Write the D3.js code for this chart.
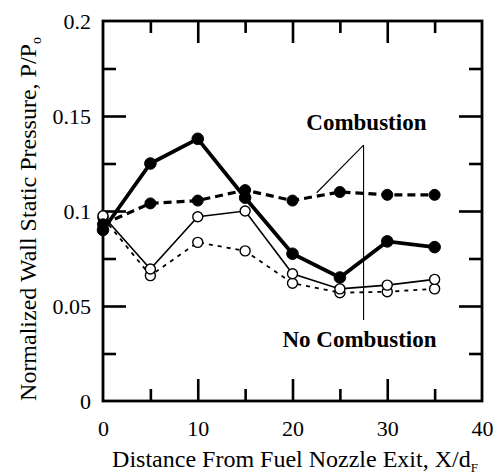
<!DOCTYPE html>
<html>
<head>
<meta charset="utf-8">
<script src="https://cdn.jsdelivr.net/npm/d3@7"></script>
<style>
  html, body { margin: 0; padding: 0; background: #fff; }
  svg { display: block; }
  svg text { font-family: "Liberation Serif", "Times New Roman", Times, "DejaVu Serif", serif !important; fill: #000; }
</style>
</head>
<body>
<script>
// ---- data ----
const xValues = [0, 5, 10, 15, 20, 25, 30, 35];
const combustionSolid  = [0.090, 0.125, 0.138, 0.107, 0.0775, 0.065, 0.084, 0.081];
const combustionDashed = [0.093, 0.104, 0.1055, 0.111, 0.1055, 0.110, 0.1085, 0.1085];
const noCombSolid      = [0.0975, 0.0695, 0.097, 0.100, 0.067, 0.059, 0.061, 0.064];
const noCombDashed     = [0.0965, 0.066, 0.0835, 0.079, 0.062, 0.057, 0.0575, 0.059];

const xTickLabels = [0, 10, 20, 30, 40];
const yTickLabels = [0, 0.05, 0.1, 0.15, 0.2];
const xMajorTicks = [10, 20, 30];
const xMinorTicks = [5, 15, 25, 35];
const yMajorTicks = [0.05, 0.1, 0.15];
const yMinorTicks = [0.025, 0.075, 0.125, 0.175];

const xLabel = "Distance From Fuel Nozzle Exit, X/d";
const xLabelSub = "F";
const yLabel = "Normalized Wall Static Pressure, P/P";
const yLabelSub = "o";
const annCombustion = { text: "Combustion", x: 27.8, y: 0.1426 };
const annNoCombustion = { text: "No Combustion", x: 27.07, y: 0.0284 };
const leaderApex = { x: 27.5, y: 0.1347 };
const leaderDiagEnd = { x: 22.55, y: 0.1096 };
const leaderVertEnd = { x: 27.5, y: 0.0426 };

// ---- layout ----
const W = 495, H = 475;
const pLeft = 103, pRight = 482, pTop = 21, pBottom = 401;
const FONT = '"Liberation Serif", "Times New Roman", Times, "DejaVu Serif", serif';

const svg = d3.select("body").append("svg").attr("width", W).attr("height", H)
  .attr("font-family", FONT);

const x = d3.scaleLinear().domain([0, 40]).range([pLeft, pRight]);
const y = d3.scaleLinear().domain([0, 0.2]).range([pBottom, pTop]);

function tickAxis(axisFn, scale, values, size, transform) {
  const g = svg.append("g").attr("transform", transform)
    .call(axisFn(scale).tickValues(values).tickSize(size).tickFormat(""));
  g.select(".domain").remove();
  g.selectAll(".tick line").attr("stroke", "#000").attr("stroke-width", 2.6);
  return g;
}
// inward ticks on all four sides
tickAxis(d3.axisBottom, x, xMajorTicks, -22, `translate(0,${pBottom})`);
tickAxis(d3.axisBottom, x, xMinorTicks, -12, `translate(0,${pBottom})`);
tickAxis(d3.axisTop, x, xMajorTicks, -22, `translate(0,${pTop})`);
tickAxis(d3.axisTop, x, xMinorTicks, -12, `translate(0,${pTop})`);
tickAxis(d3.axisLeft, y, yMajorTicks, -23, `translate(${pLeft},0)`);
tickAxis(d3.axisLeft, y, yMinorTicks, -13, `translate(${pLeft},0)`);
tickAxis(d3.axisRight, y, yMajorTicks, -23, `translate(${pRight},0)`);
tickAxis(d3.axisRight, y, yMinorTicks, -13, `translate(${pRight},0)`);

// frame
svg.append("rect").attr("x", pLeft).attr("y", pTop)
  .attr("width", pRight - pLeft).attr("height", pBottom - pTop)
  .attr("fill", "none").attr("stroke", "#000").attr("stroke-width", 2.8);

// tick labels
const gx = svg.append("g").attr("transform", `translate(0,${pBottom})`)
  .call(d3.axisBottom(x).tickValues(xTickLabels).tickSize(0).tickPadding(19).tickFormat(d3.format("d")));
gx.select(".domain").remove();
gx.attr("font-family", FONT).attr("font-size", 22);

const gy = svg.append("g").attr("transform", `translate(${pLeft},0)`)
  .call(d3.axisLeft(y).tickValues(yTickLabels).tickSize(0).tickPadding(12).tickFormat(d => d === 0 ? "0" : String(d)));
gy.select(".domain").remove();
gy.attr("font-family", FONT).attr("font-size", 22);

// axis titles
const xt = svg.append("text").attr("x", 295).attr("y", 467)
  .attr("text-anchor", "middle").attr("font-size", 24);
xt.append("tspan").text(xLabel);
xt.append("tspan").attr("dy", 5).attr("font-size", 13).text(xLabelSub);

const yt = svg.append("text")
  .attr("transform", `translate(36,219) rotate(-90)`)
  .attr("text-anchor", "middle").attr("font-size", 24);
yt.append("tspan").text(yLabel);
yt.append("tspan").attr("dy", 5).attr("font-size", 14).text(yLabelSub);

// series
const series = [
  { vals: noCombDashed, width: 1.8, dash: "4,5", filled: false, r: 5 },
  { vals: noCombSolid, width: 1.6, dash: null, filled: false, r: 5 },
  { vals: combustionDashed, width: 3.2, dash: "8,5", filled: true, r: 5.5 },
  { vals: combustionSolid, width: 3.8, dash: null, filled: true, r: 5.8 },
];
const line = d3.line().x(d => x(d[0])).y(d => y(d[1]));
series.forEach(s => {
  const pts = xValues.map((xv, i) => [xv, s.vals[i]]);
  svg.append("path").datum(pts).attr("d", line)
    .attr("fill", "none").attr("stroke", "#000")
    .attr("stroke-width", s.width)
    .attr("stroke-dasharray", s.dash);
  svg.append("g").selectAll("circle").data(pts).join("circle")
    .attr("cx", d => x(d[0])).attr("cy", d => y(d[1])).attr("r", s.r)
    .attr("fill", s.filled ? "#000" : "#fff")
    .attr("stroke", "#000").attr("stroke-width", s.filled ? 1 : 1.4);
});

// annotations
svg.append("line")
  .attr("x1", x(leaderApex.x)).attr("y1", y(leaderApex.y))
  .attr("x2", x(leaderDiagEnd.x)).attr("y2", y(leaderDiagEnd.y))
  .attr("stroke", "#000").attr("stroke-width", 1.1);
svg.append("line")
  .attr("x1", x(leaderApex.x)).attr("y1", y(leaderApex.y))
  .attr("x2", x(leaderVertEnd.x)).attr("y2", y(leaderVertEnd.y))
  .attr("stroke", "#000").attr("stroke-width", 1.1);

[annCombustion, annNoCombustion].forEach(a => {
  svg.append("text").attr("x", x(a.x)).attr("y", y(a.y))
    .attr("text-anchor", "middle").attr("font-size", 23).attr("font-weight", "bold")
    .text(a.text);
});
</script>
</body>
</html>
